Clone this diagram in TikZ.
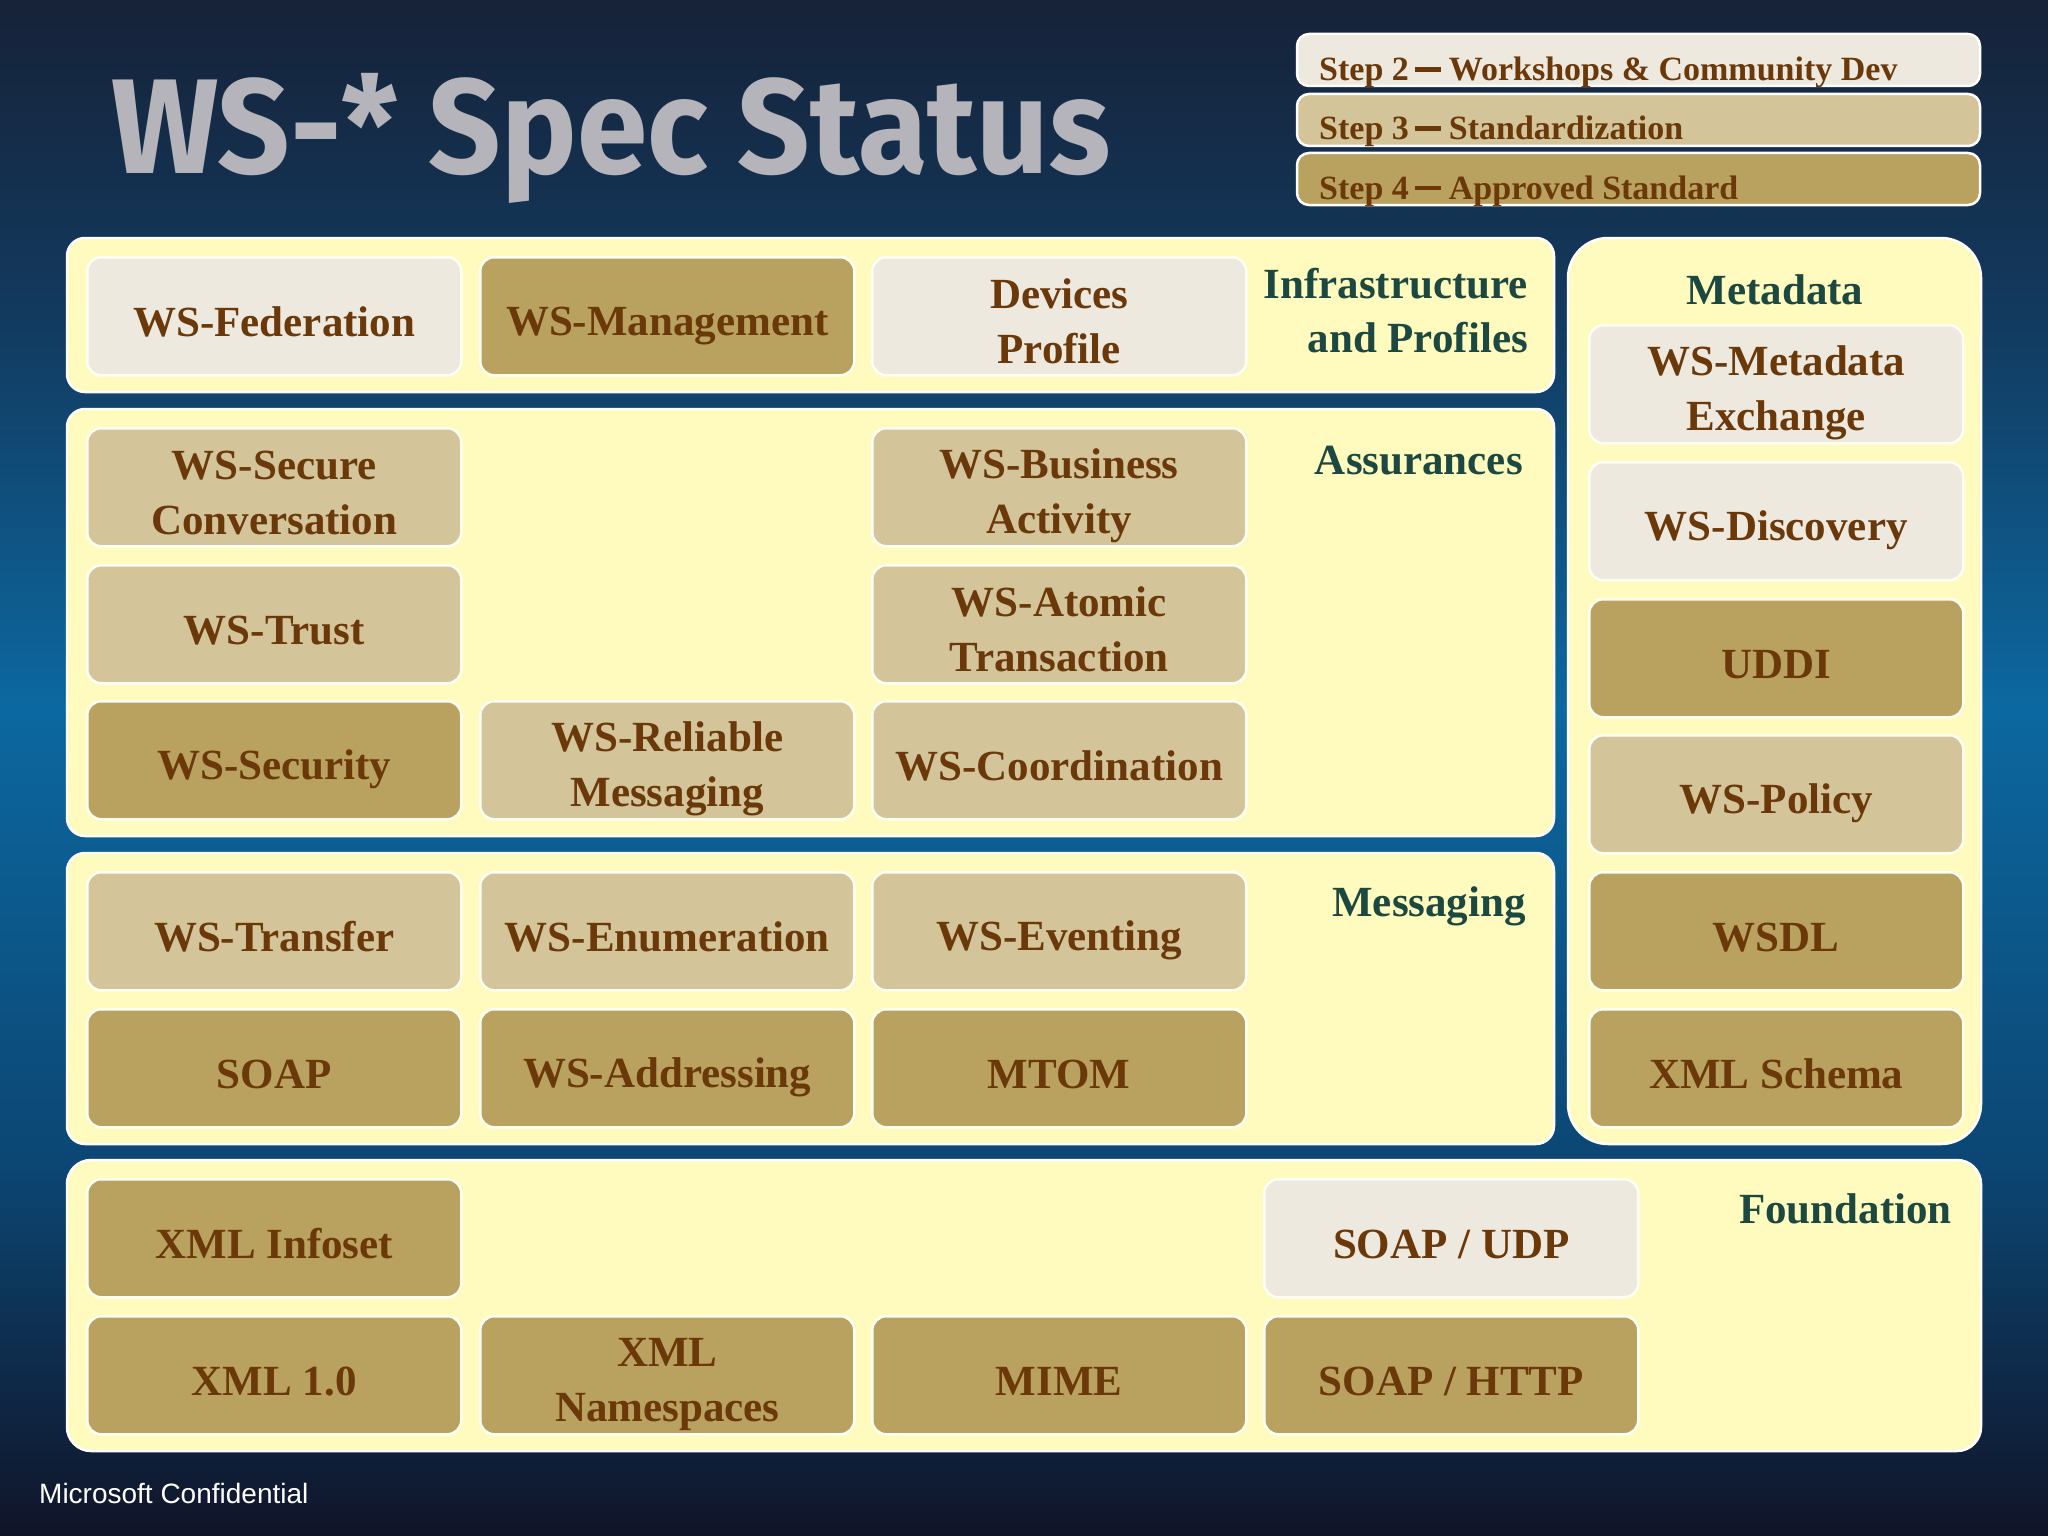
\documentclass[tikz,border=0pt]{standalone}
\usepackage{fontspec}
\setmainfont{Liberation Serif}
\newfontfamily\titlefont{Fira Sans}
\newfontfamily\footfont{Liberation Sans}
\definecolor{lightc}{RGB}{238,233,223}
\definecolor{medc}{RGB}{211,196,154}
\definecolor{darkc}{RGB}{185,162,95}
\definecolor{panelc}{RGB}{255,251,190}
\definecolor{boxtext}{RGB}{107,56,10}
\definecolor{labc}{RGB}{28,72,66}
\definecolor{titlec}{RGB}{180,180,186}
\definecolor{bgA}{RGB}{22,34,56}
\definecolor{bgB}{RGB}{18,60,98}
\definecolor{bgC}{RGB}{12,104,160}
\definecolor{bgD}{RGB}{12,70,115}
\definecolor{bgE}{RGB}{16,20,40}
\pgfdeclareverticalshading{bgshade}{100bp}{color(0bp)=(bgE); color(25bp)=(bgE); color(37bp)=(bgD); color(52bp)=(bgC); color(64bp)=(bgB); color(75bp)=(bgA); color(100bp)=(bgA)}
\newcommand{\bstrut}{\rule[-7.5pt]{0pt}{55pt}}
\newcommand{\legdash}{\hspace{6pt}\rule[9pt]{26pt}{4.5pt}\hspace{8pt}}
\tikzset{
  panel/.style={fill=panelc, draw=white, line width=2.5pt, rounded corners=18pt},
  sbox/.style={draw=white!85!panelc, line width=2.5pt, rounded corners=14pt,
    minimum width=374pt, minimum height=118pt, text width=360pt, align=flush center,
    font=\fontsize{43}{55}\selectfont\bfseries, text=boxtext, anchor=north west, inner sep=0pt,
    execute at begin node={\bstrut}, execute at end node={\bstrut}},
  lbox/.style={sbox, fill=lightc},
  mbox/.style={sbox, fill=medc},
  dbox/.style={sbox, fill=darkc},
  plabel/.style={font=\fontsize{43}{54}\selectfont\bfseries, text=labc, align=right, inner sep=0pt},
  legbox/.style={draw=white, line width=2.5pt, rounded corners=12pt},
  legtext/.style={font=\fontsize{34}{40}\selectfont\bfseries, text=boxtext, anchor=base west, inner sep=0pt},
}
\begin{document}
\begin{tikzpicture}[x=1pt,y=-1pt]
\useasboundingbox (0,0) rectangle (2048,1536);
\fill[shading=bgshade] (0,0) rectangle (2048,1536);
% title
\node[anchor=base west, inner sep=0pt, text=titlec] (title) at (111,174)
  {\scalebox{0.94}[1]{\titlefont\bfseries\fontsize{135}{140}\selectfont WS-* Spec Status}};
% legend
\draw[legbox, fill=lightc] (1297,34) rectangle (1980,86);
\draw[legbox, fill=medc] (1297,94) rectangle (1980,146);
\draw[legbox, fill=darkc] (1297,153) rectangle (1980,205);
\node[legtext] (leg2) at (1319,81) {Step 2\legdash Workshops \& Community Dev};
\node[legtext] (leg3) at (1319,140) {Step 3\legdash Standardization};
\node[legtext] (leg4) at (1319,199) {Step 4\legdash Approved Standard};
% panels
\draw[panel] (67,238) rectangle (1554,392);
\draw[panel] (67,409) rectangle (1554,836);
\draw[panel] (67,853) rectangle (1554,1144);
\draw[panel, rounded corners=40pt] (1568,238) rectangle (1981,1144);
\draw[panel, rounded corners=24pt] (67,1160) rectangle (1981,1451);
% panel labels
\node[plabel, anchor=north east] (linfra) at (1528,268) {Infrastructure\\and Profiles};
\node[plabel, anchor=north east] (lassur) at (1523,446) {Assurances};
\node[plabel, anchor=north east] (lmsg) at (1526,886) {Messaging};
\node[plabel, anchor=north, align=center] (lmeta) at (1775,274) {Metadata};
\node[plabel, anchor=north east] (lfound) at (1952,1193) {Foundation};
% infrastructure row
\node[lbox] (fed) at (86,256) {WS-Federation};
\node[dbox] (mgmt) at (479,256) {WS-Management};
\node[lbox] (dev) at (871,256) {Devices\\Profile};
% assurances
\node[mbox] (secconv) at (86,427) {WS-Secure\\Conversation};
\node[mbox] (busact) at (871,427) {WS-Business\\Activity};
\node[mbox] (trust) at (86,564) {WS-Trust};
\node[mbox] (atomic) at (871,564) {WS-Atomic\\Transaction};
\node[dbox] (sec) at (86,700) {WS-Security};
\node[mbox] (rel) at (479,700) {WS-Reliable\\Messaging};
\node[mbox] (coord) at (871,700) {WS-Coordination};
% messaging
\node[mbox] (transfer) at (86,871) {WS-Transfer};
\node[mbox] (enum) at (479,871) {WS-Enumeration};
\node[mbox] (event) at (871,871) {WS-Eventing};
\node[dbox] (soap) at (86,1008) {SOAP};
\node[dbox] (addr) at (479,1008) {WS-Addressing};
\node[dbox] (mtom) at (871,1008) {MTOM};
% metadata
\node[lbox] (mex) at (1588,324) {WS-Metadata\\Exchange};
\node[lbox] (disc) at (1588,461) {WS-Discovery};
\node[dbox] (uddi) at (1588,598) {UDDI};
\node[mbox] (policy) at (1588,734) {WS-Policy};
\node[dbox] (wsdl) at (1588,871) {WSDL};
\node[dbox] (xsd) at (1588,1008) {XML Schema};
% foundation
\node[dbox] (infoset) at (86,1178) {XML Infoset};
\node[lbox] (udp) at (1263,1178) {SOAP / UDP};
\node[dbox] (xml) at (86,1315) {XML 1.0};
\node[dbox] (ns) at (479,1315) {XML\\Namespaces};
\node[dbox] (mime) at (871,1315) {MIME};
\node[dbox] (http) at (1263,1315) {SOAP / HTTP};
% footer
\node[anchor=base west, inner sep=0pt, text=white, font=\footfont\fontsize{28}{32}\selectfont] (foot) at (39,1503) {Microsoft Confidential};
\end{tikzpicture}
\end{document}
